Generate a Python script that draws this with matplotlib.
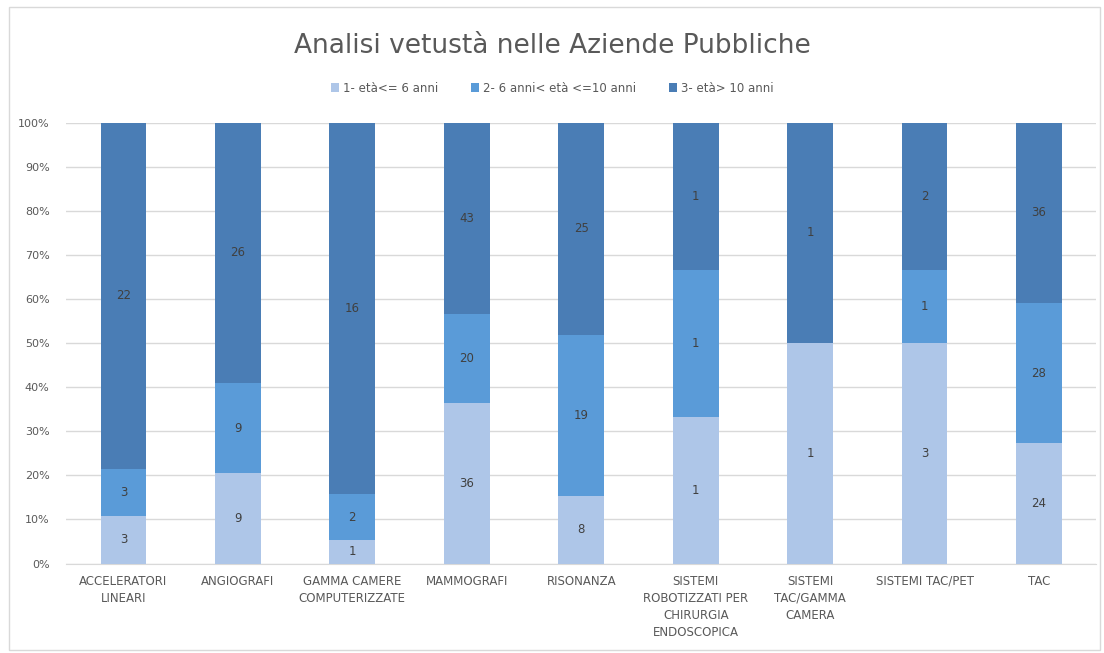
import matplotlib.pyplot as plt
import numpy as np
from matplotlib.patches import Rectangle
from matplotlib.ticker import PercentFormatter

# Categories (x labels as shown, wrapped)
categories = ['ACCELERATORI\nLINEARI', 'ANGIOGRAFI', 'GAMMA CAMERE\nCOMPUTERIZZATE',
              'MAMMOGRAFI', 'RISONANZA', 'SISTEMI\nROBOTIZZATI PER\nCHIRURGIA\nENDOSCOPICA',
              'SISTEMI\nTAC/GAMMA\nCAMERA', 'SISTEMI TAC/PET', 'TAC']

# Counts per age class
eta_0_6 = [3, 9, 1, 36, 8, 1, 1, 3, 24]
eta_6_10 = [3, 9, 2, 20, 19, 1, 0, 1, 28]
eta_10_plus = [22, 26, 16, 43, 25, 1, 1, 2, 36]

series_names = ['1- età<= 6 anni', '2- 6 anni< età <=10 anni', '3- età> 10 anni']
colors = ['#AEC6E8', '#5A9BD8', '#4A7DB5']

counts = np.array([eta_0_6, eta_6_10, eta_10_plus], dtype=float)
shares = counts / counts.sum(axis=0)

fig = plt.figure(figsize=(11.04, 6.53), dpi=100)
ax = fig.add_axes([0.060, 0.137, 0.933, 0.675])

# light border around the chart
fig.patches.append(Rectangle((0.008, 0.005), 0.988, 0.984, transform=fig.transFigure,
                             fill=False, edgecolor='#D9D9D9', linewidth=1))

x = np.arange(len(categories))
bottom = np.zeros(len(categories))
for i in range(3):
    ax.bar(x, shares[i], bottom=bottom, width=0.40, color=colors[i],
           label=series_names[i], zorder=3)
    for j in range(len(categories)):
        if counts[i, j] > 0:
            ax.text(x[j], bottom[j] + shares[i, j] / 2, f'{int(counts[i, j])}',
                    ha='center', va='center', fontsize=8.5, color='#404040', zorder=4)
    bottom += shares[i]

ax.set_xlim(-0.5, len(categories) - 0.5)
ax.set_ylim(0, 1)
ax.set_yticks(np.arange(0, 1.01, 0.1))
ax.yaxis.set_major_formatter(PercentFormatter(1.0, decimals=0))
ax.set_xticks(x)
ax.set_xticklabels(categories, fontsize=8.5, color='#595959', linespacing=1.4)
ax.tick_params(axis='y', labelsize=8, colors='#595959', length=0, pad=12)
ax.tick_params(axis='x', length=0, pad=8)
ax.grid(axis='y', color='#D9D9D9', linewidth=1, zorder=0)
for s in ['top', 'right', 'left']:
    ax.spines[s].set_visible(False)
ax.spines['bottom'].set_color('#D9D9D9')

fig.text(0.5, 0.93, 'Analisi vetustà nelle Aziende Pubbliche', ha='center', va='center',
         fontsize=19, color='#595959')

handles, labels = ax.get_legend_handles_labels()
fig.legend(handles, labels, loc='center', bbox_to_anchor=(0.5, 0.865), ncol=3, frameon=False,
           fontsize=8.5, labelcolor='#595959', handlelength=0.7, handleheight=0.7,
           handletextpad=0.3, columnspacing=2.8)

fig.savefig('out.png', dpi=100, facecolor='white')
